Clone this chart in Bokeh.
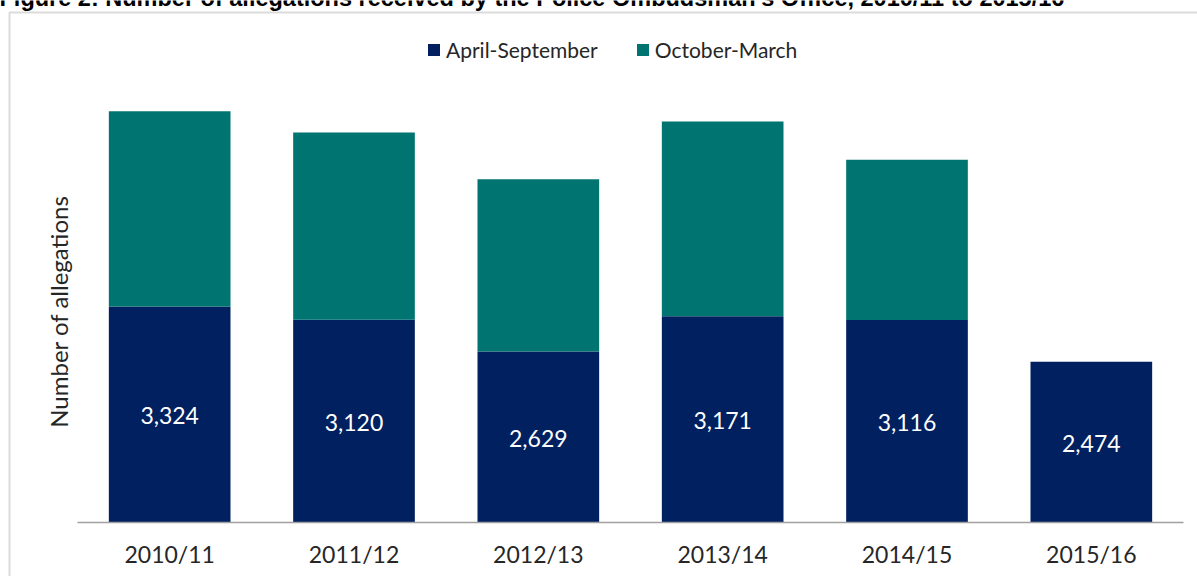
from bokeh.plotting import figure
from bokeh.models import Range1d, Legend, LegendItem, Label, BoxAnnotation, ColumnDataSource, LabelSet
from bokeh.embed import file_html
from bokeh.resources import INLINE
from bokeh.core.properties import value
import math

years = ["2010/11", "2011/12", "2012/13", "2013/14", "2014/15", "2015/16"]
apr_sep = [3324, 3120, 2629, 3171, 3116, 2474]
oct_mar = [3000, 2878, 2652, 2996, 2462, 0]
series = ["April-September", "October-March"]
colors = ["#00205F", "#007470"]
title_text = "Figure 2: Number of allegations received by the Police Ombudsman\u2019s Office, 2010/11 to 2015/16"
y_title = "Number of allegations"

FONT = "Lato"
W, H = 1197, 576

# pixel layout of the plotting area (category span and baseline)
X0_PX, X1_PX = 77, 1183     # left / right end of the category axis
BASE_PX = 522               # y of the zero baseline
UPP = 15.38                 # allegations per pixel

ncat = len(years)
ppu = (X1_PX - X0_PX) / ncat


def dx(px):
    return (px - X0_PX) / ppu


def dy(py):
    return (BASE_PX - py) * UPP


xpos = [i + 0.5 for i in range(ncat)]

src = ColumnDataSource(dict(
    x=xpos,
    year=years,
    apr=apr_sep,
    octm=oct_mar,
    mid=[v / 2 for v in apr_sep],
    lab=[f"{v:,}" for v in apr_sep],
    ylab=[dy(553)] * ncat,
))

p = figure(
    x_range=Range1d(dx(0), dx(W)),
    y_range=Range1d(dy(H), dy(0)),
    width=W, height=H,
    min_border=0,
    x_axis_location=None, y_axis_location=None,
    output_backend="svg", toolbar_location=None,
)
p.outline_line_color = None
p.grid.visible = False

# outer chart border (continues beyond the visible area)
p.add_layout(BoxAnnotation(left=dx(9), right=dx(W + 40), top=dy(12), bottom=dy(H + 40),
                           fill_alpha=0, line_color="#888888", line_width=2,
                           level="underlay"))

rs = p.vbar_stack(["apr", "octm"], x="x", width=0.66, source=src,
                  color=colors, line_color=None)

# category axis line and labels
p.segment(x0=[0], x1=[ncat], y0=[0], y1=[0], line_color="#A0A0A0", line_width=1.5)
p.text(x="x", y="ylab", text="year", source=src, text_align="center",
       text_baseline="middle", text_font=value(FONT), text_font_size="23px",
       text_color="#262626")

labels = LabelSet(x="x", y="mid", text="lab", source=src,
                  text_align="center", text_baseline="middle", y_offset=-1,
                  text_color="white", text_font=value(FONT), text_font_size="23px")
p.add_layout(labels)

legend = Legend(items=[LegendItem(label=series[0], renderers=[rs[0]]),
                       LegendItem(label=series[1], renderers=[rs[1]])],
                orientation="horizontal", location=(426, H - 62),
                glyph_width=15, glyph_height=15, label_standoff=5, spacing=37,
                padding=0, margin=0, label_height=20,
                label_text_font=FONT, label_text_font_size="21px",
                label_text_color="#262626",
                border_line_color=None, background_fill_alpha=0)
p.add_layout(legend, "center")

# y-axis title
p.add_layout(Label(x=dx(58), y=dy(311), text=y_title, angle=math.pi / 2,
                   text_align="center", text_baseline="alphabetic",
                   text_font=FONT, text_font_size="24px",
                   text_color="#262626"))

# figure title (cut off at the top edge, as in the source)
p.add_layout(Label(x=dx(-1), y=dy(-3), text=title_text,
                   text_align="left", text_baseline="alphabetic",
                   text_font="Liberation Sans", text_font_style="bold",
                   text_font_size="23.5px", text_color="black"))

open("out.html", "w").write(file_html(p, INLINE))
